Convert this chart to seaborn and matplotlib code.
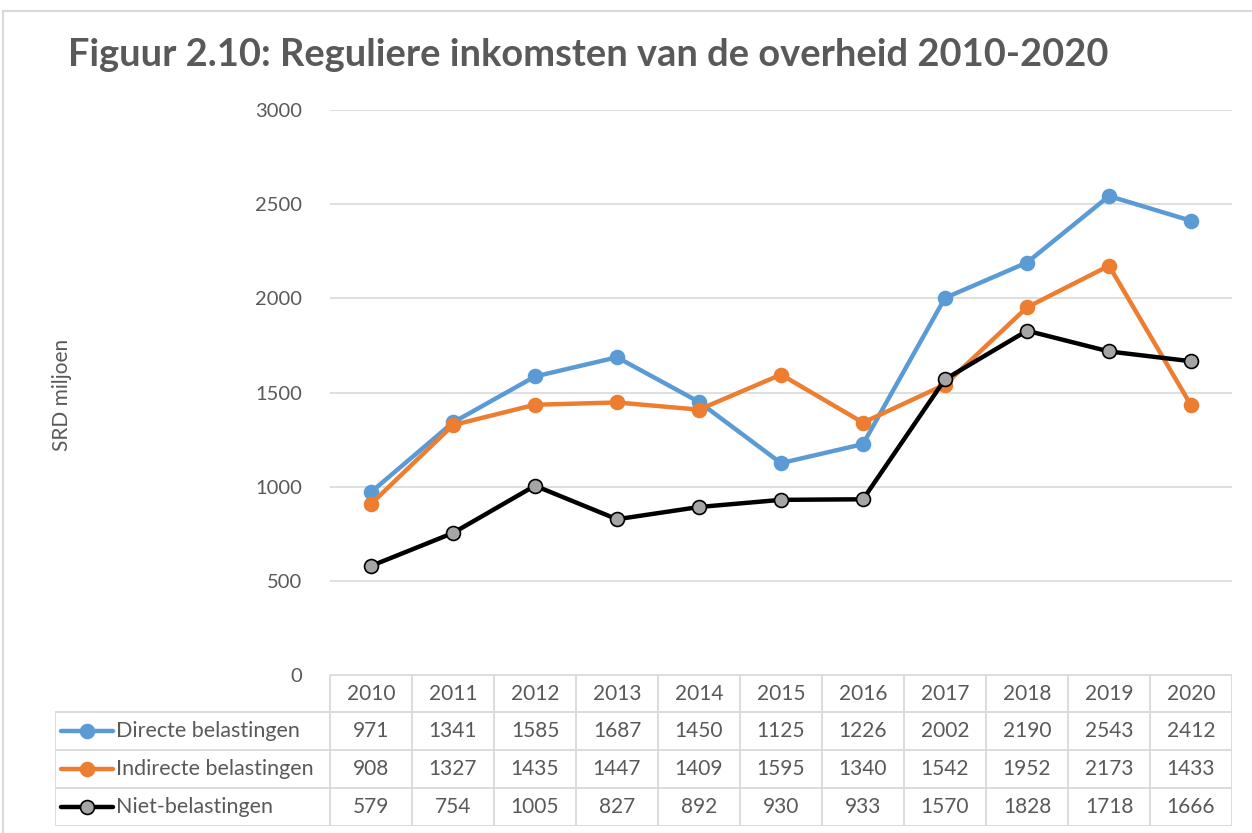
import matplotlib.pyplot as plt
import seaborn as sns
import pandas as pd
from matplotlib.lines import Line2D

# data uit de tabel onder de grafiek
jaren = ['2010', '2011', '2012', '2013', '2014', '2015', '2016', '2017', '2018', '2019', '2020']
directe = [971, 1341, 1585, 1687, 1450, 1125, 1226, 2002, 2190, 2543, 2412]
indirecte = [908, 1327, 1435, 1447, 1409, 1595, 1340, 1542, 1952, 2173, 1433]
niet_bel = [579, 754, 1005, 827, 892, 930, 933, 1570, 1828, 1718, 1666]
reeksen = ['Directe belastingen', 'Indirecte belastingen', 'Niet-belastingen']
y_ticks = [0, 500, 1000, 1500, 2000, 2500, 3000]

kleuren = {'Directe belastingen': '#5B9BD5', 'Indirecte belastingen': '#ED7D31', 'Niet-belastingen': '#000000'}
marker_vul = {'Directe belastingen': '#5B9BD5', 'Indirecte belastingen': '#ED7D31', 'Niet-belastingen': '#A5A5A5'}

df = pd.DataFrame({'jaar': jaren * 3,
                   'pos': list(range(len(jaren))) * 3,
                   'waarde': directe + indirecte + niet_bel,
                   'reeks': sum([[r] * len(jaren) for r in reeksen], [])})

sns.set_style('white')
plt.rcParams['font.family'] = ['Lato', 'DejaVu Sans']
tekst = '#595959'
raster = '#D9D9D9'

W, H = 1252, 833
fig = plt.figure(figsize=(W / 100, H / 100), dpi=100)

# buitenrand van de grafiek
fig.add_artist(Line2D([3 / W, 3 / W], [0, 1 - 11 / H], color=raster, lw=1.5))
fig.add_artist(Line2D([3 / W, 1], [1 - 11 / H, 1 - 11 / H], color=raster, lw=1.5))

left, right, top, bottom = 330, 1232, 110, 675
ax = fig.add_axes([left / W, 1 - bottom / H, (right - left) / W, (bottom - top) / H])

for r in reeksen:
    sub = df[df['reeks'] == r]
    sns.lineplot(data=sub, x='pos', y='waarde', ax=ax, color=kleuren[r], lw=3.2,
                 marker='o', markersize=10, markerfacecolor=marker_vul[r],
                 markeredgecolor='#000000' if r == 'Niet-belastingen' else marker_vul[r],
                 markeredgewidth=1.2, legend=False, zorder=3)

ax.set_xlim(-0.5, len(jaren) - 0.5)
ax.set_ylim(0, 3000)
ax.set_yticks(y_ticks)
ax.set_yticklabels([str(t) for t in y_ticks], color=tekst, fontsize=14.5)
ax.set_xticks([])
ax.set_xlabel('')
ax.set_ylabel('')
ax.tick_params(axis='y', length=0, pad=20)
ax.grid(axis='y', color=raster, lw=1.2)
for s in ax.spines.values():
    s.set_visible(False)

fig.text(62 / W, 1 - 395 / H, 'SRD miljoen', rotation=90, ha='center', va='center',
         color=tekst, fontsize=15)
fig.text(588 / W, 1 - 55 / H, 'Figuur 2.10: Reguliere inkomsten van de overheid 2010-2020',
         ha='center', va='center', color=tekst, fontsize=27.4, fontweight='bold')

# datatabel onder de grafiek
tl, tr, tt, tb = 55, 1232, 675, 826
axt = fig.add_axes([tl / W, 1 - tb / H, (tr - tl) / W, (tb - tt) / H])
axt.set_xlim(tl, tr)
axt.set_ylim(tb, tt)
axt.axis('off')
kolom = (right - left) / len(jaren)
rij_y = [675, 712, 750, 788, 826]
lc = dict(color=raster, lw=1.3)
axt.plot([left, right], [rij_y[0], rij_y[0]], **lc)
for y in rij_y[1:]:
    axt.plot([tl, right], [y, y], **lc)
axt.plot([tl, tl], [rij_y[1], rij_y[-1]], **lc)
for i in range(len(jaren) + 1):
    axt.plot([left + i * kolom] * 2, [rij_y[0], rij_y[-1]], **lc)

for i, j in enumerate(jaren):
    axt.text(left + (i + 0.5) * kolom, (rij_y[0] + rij_y[1]) / 2, j, ha='center', va='center',
             color=tekst, fontsize=15)
for k, (r, vals) in enumerate(zip(reeksen, [directe, indirecte, niet_bel])):
    yc = (rij_y[k + 1] + rij_y[k + 2]) / 2
    axt.plot([61, 113], [yc, yc], color=kleuren[r], lw=3.2, solid_capstyle='round')
    axt.plot([87], [yc], marker='o', markersize=10, color=kleuren[r], markerfacecolor=marker_vul[r],
             markeredgecolor='#000000' if r == 'Niet-belastingen' else marker_vul[r], markeredgewidth=1.2)
    axt.text(116, yc, r, ha='left', va='center', color=tekst, fontsize=15.5)
    for i, v in enumerate(vals):
        axt.text(left + (i + 0.5) * kolom, yc, str(v), ha='center', va='center',
                 color=tekst, fontsize=15)

fig.savefig('out.png', dpi=100)
